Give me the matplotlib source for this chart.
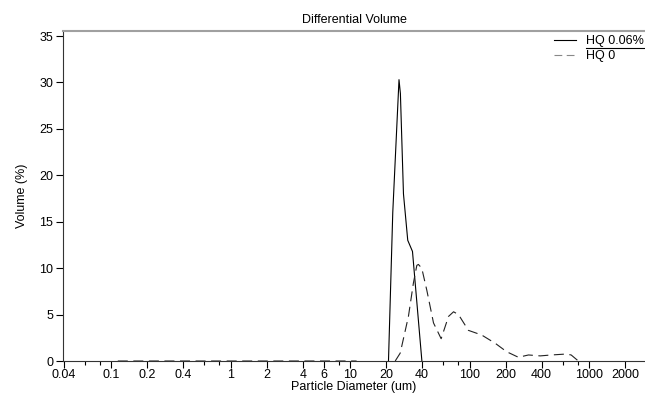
import numpy as np
import matplotlib
matplotlib.use("Agg")
from matplotlib import pyplot as plt

plt.rcParams['font.family'] = ['Liberation Sans', 'DejaVu Sans']
plt.rcParams['font.size'] = 9

# HQ 0.06% (solid)
hq006_size = [20.9, 22.7, 25.6, 26.3, 27.9, 30.3, 33.2, 39.8]
hq006_vol = [0.0, 16.0, 30.3, 28.8, 18.0, 13.0, 11.8, 0.0]

# HQ 0 (dashed); nan breaks the line
hq0_size = [0.113, 11.3, np.nan, 23.8, 26.2, 30.7, 33.8, 36.1, 37.2, 39.7, 43.8, 49.8,
            57.7, 66.5, 73.3, 80.6, 97.6, 126, 164, 204, 256, 311, 390, 484,
            643, 708, 813]
hq0_vol = [0.0, 0.0, np.nan, 0.0, 0.85, 4.8, 8.4, 10.3, 10.4, 10.0, 7.6, 4.1,
           2.4, 4.8, 5.3, 5.0, 3.3, 2.8, 1.9, 1.0, 0.4, 0.65, 0.55, 0.65,
           0.75, 0.65, 0.0]

major_ticks = [0.04, 0.1, 0.2, 0.4, 1, 2, 4, 6, 10, 20, 40, 100, 200, 400, 1000, 2000]
major_labels = ['0.04', '0.1', '0.2', '0.4', '1', '2', '4', '6', '10', '20', '40',
                '100', '200', '400', '1000', '2000']
minor_ticks = [0.06, 0.08, 0.6, 0.8, 8, 60, 80, 600, 800]
y_ticks = [0, 5, 10, 15, 20, 25, 30, 35]

fig = plt.figure(figsize=(6.45, 3.96), dpi=100)
ax = fig.add_axes([63 / 645, 35 / 396, 1 - 63 / 645, 330 / 396])

ax.plot(hq006_size, hq006_vol, color='black', lw=0.8)
ax.plot(hq0_size, hq0_vol, color='#222222', lw=0.8, dashes=(9, 5))

ax.set_xscale('log')
ax.set_xlim(0.0393, 2940)
ax.set_ylim(0, 35.54)
ax.set_xticks(major_ticks)
ax.set_xticklabels(major_labels)
ax.set_xticks(minor_ticks, minor=True)
ax.set_xticklabels([], minor=True)
ax.set_yticks(y_ticks)
ax.tick_params(axis='both', which='major', direction='out', length=5, width=0.8, pad=2)
ax.tick_params(axis='x', which='major', pad=0.5)
ax.tick_params(axis='x', which='minor', direction='out', length=3, width=0.8)

ax.spines['right'].set_visible(False)
ax.spines['top'].set_color('#a0a0a0')
ax.spines['top'].set_linewidth(1.5)
ax.spines['left'].set_color('#333333')
ax.spines['bottom'].set_color('#333333')

ax.set_title('Differential Volume', fontsize=9, pad=6)
ax.set_xlabel('Particle Diameter (um)', fontsize=9, labelpad=0.5)
ax.set_ylabel('Volume (%)', fontsize=9, labelpad=8)

# legend drawn by hand (underlined first entry)
tr = ax.transAxes
ax.plot([0.844, 0.881], [0.972, 0.972], color='black', lw=0.8, transform=tr, clip_on=False)
ax.text(0.898, 0.9600, 'HQ 0.06%', transform=tr, va='baseline', ha='left')
ax.plot([0.898, 1.0], [0.950, 0.950], color='black', lw=0.8, transform=tr, clip_on=False)
ax.plot([0.844, 0.884], [0.928, 0.928], color='#888888', lw=0.8, dashes=(7, 4),
        transform=tr, clip_on=False)
ax.text(0.898, 0.914, 'HQ 0', transform=tr, va='baseline', ha='left')

fig.savefig('out.png', dpi=100)
